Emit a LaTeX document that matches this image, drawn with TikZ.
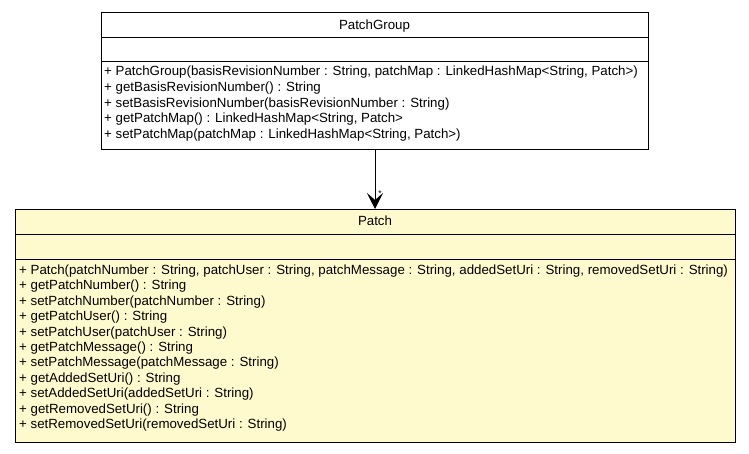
\documentclass[tikz,border=0pt]{standalone}
\usepackage{fontspec}
\setmainfont{Liberation Sans}
\usetikzlibrary{arrows.meta}
\definecolor{lemon}{RGB}{255,250,205}
\begin{document}
\begin{tikzpicture}[x=1pt,y=-1pt]
\tikzset{
  classbox/.style={draw=black, line width=0.9pt, inner sep=0pt, outer sep=0pt},
  sepline/.style={draw=black, line width=0.9pt},
  member/.style={font=\fontsize{13.3}{15}\selectfont, inner sep=0pt, anchor=base west},
  title/.style={font=\fontsize{13.3}{15}\selectfont, inner sep=0pt, anchor=base},
  mult/.style={font=\fontsize{8.5}{8.5}\selectfont, inner sep=0pt},
  assoc/.style={draw=black, line width=0.9pt, -{Stealth[length=16pt,width=16pt,inset=7pt]}},
}
\useasboundingbox (0,0) rectangle (749,453);
% PatchGroup
\node[classbox, fill=white, minimum width=547pt, minimum height=137pt] (pg) at (374.5,80.5) {};
\draw[sepline] (101,37) -- (648,37);
\draw[sepline] (101,61) -- (648,61);
\node[title] (pgt) at (374.5,29.5) {PatchGroup};
\foreach \t [count=\i from 0] in {
  {+ PatchGroup(basisRevisionNumber : String, patchMap : LinkedHashMap<String, Patch>)},
  {+ getBasisRevisionNumber() : String},
  {+ setBasisRevisionNumber(basisRevisionNumber : String)},
  {+ getPatchMap() : LinkedHashMap<String, Patch>},
  {+ setPatchMap(patchMap : LinkedHashMap<String, Patch>)}}
  \node[member] (pgm\i) at (104,75.5+15.75*\i) {\t};
% Patch
\node[classbox, fill=lemon, minimum width=720pt, minimum height=233.5pt] (pt) at (375,325.75) {};
\draw[sepline] (15,234) -- (735,234);
\draw[sepline] (15,259) -- (735,259);
\node[title] (ptt) at (375,225.2) {Patch};
\foreach \t [count=\i from 0] in {
  {+ Patch(patchNumber : String, patchUser : String, patchMessage : String, addedSetUri : String, removedSetUri : String)},
  {+ getPatchNumber() : String},
  {+ setPatchNumber(patchNumber : String)},
  {+ getPatchUser() : String},
  {+ setPatchUser(patchUser : String)},
  {+ getPatchMessage() : String},
  {+ setPatchMessage(patchMessage : String)},
  {+ getAddedSetUri() : String},
  {+ setAddedSetUri(addedSetUri : String)},
  {+ getRemovedSetUri() : String},
  {+ setRemovedSetUri(removedSetUri : String)}}
  \node[member] (ptm\i) at (19,274.5+15.4*\i) {\t};
% association
\draw[assoc] (pg.south -| pt.north) -- node[mult, pos=0.75, xshift=5pt] (m1) {*} (pt.north);
\end{tikzpicture}
\end{document}
